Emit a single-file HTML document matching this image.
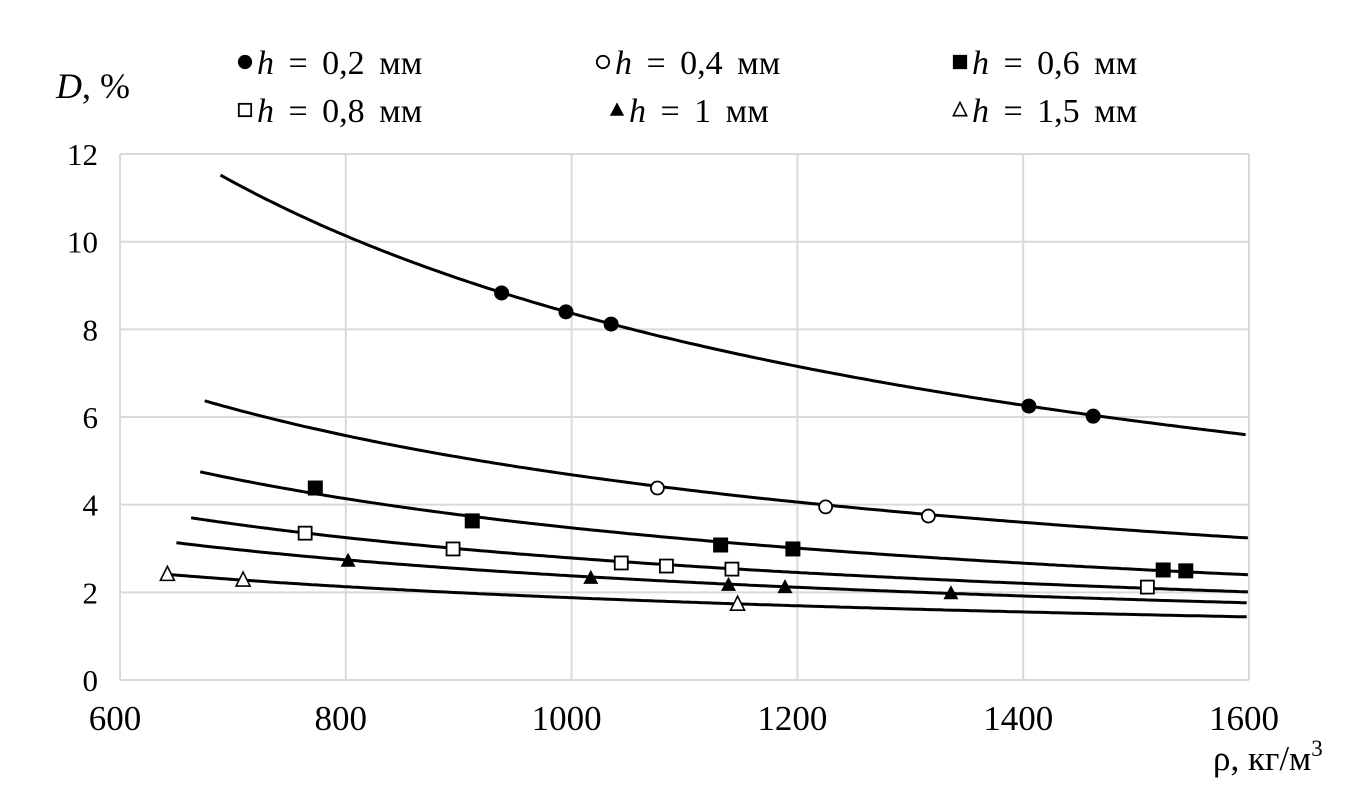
<!DOCTYPE html>
<html><head><meta charset="utf-8"><style>
html,body{margin:0;padding:0;background:#fff}
svg{display:block}
text{font-family:"Liberation Serif","Noto Serif CJK SC",serif;fill:#000}
</style></head><body>
<svg id="chart" width="1370" height="807">
<g id="grid"></g>
<g id="ticks"></g>
<g id="series"></g>
<text x="56" y="98" font-size="36"><tspan font-style="italic">D</tspan>, %</text>
<text x="1213" y="770" font-size="35">ρ, кг/м<tspan font-size="23" dy="-14">3</tspan></text>
<g id="legend"></g>
</svg>
<script>
const xTicks=[600,800,1000,1200,1400,1600];
const yTicks=[0,2,4,6,8,10,12];
const seriesNames=["h = 0,2 мм","h = 0,4 мм","h = 0,6 мм","h = 0,8 мм","h = 1 мм","h = 1,5 мм"];
const seriesMarkers=["fcircle","ocircle","fsquare","osquare","ftri","otri"];
const rho02=[938,995,1035,1405,1462];
const d02=[8.83,8.40,8.12,6.25,6.02];
const rho04=[1076,1225,1316];
const d04=[4.38,3.95,3.74];
const rho06=[773,912,1132,1196,1524,1544];
const d06=[4.38,3.63,3.08,2.99,2.51,2.49];
const rho08=[764,895,1044,1084,1142,1510];
const d08=[3.35,2.99,2.67,2.60,2.53,2.12];
const rho10=[802,1017,1139,1189,1336];
const d10=[2.72,2.33,2.17,2.12,1.98];
const rho15=[642,709,1147];
const d15=[2.41,2.28,1.73];
// power-law trend lines: start density, D at start, D at 1600
const trendStart=[689,675,671,663,650,642];
const trendDStart=[11.52,6.37,4.75,3.70,3.13,2.41];
const trendDEnd=[5.59,3.24,2.40,2.01,1.76,1.44];

const NS="http://www.w3.org/2000/svg";
const X=v=>120+(v-600)*1.129;
const Y=v=>680-v*43.83;
function mk(tag,attrs,parent){const e=document.createElementNS(NS,tag);for(const k in attrs)e.setAttribute(k,attrs[k]);parent.appendChild(e);return e;}
const grid=document.getElementById('grid'),ticks=document.getElementById('ticks'),ser=document.getElementById('series'),leg=document.getElementById('legend');
xTicks.forEach(t=>{
 const l=mk('line',{x1:X(t),x2:X(t),y1:Y(12),y2:Y(0),stroke:'#d9d9d9','stroke-width':2},grid);
 
 
 const tx=mk('text',{x:X(t)-5,y:730,'font-size':35,'text-anchor':'middle'},ticks);tx.textContent=t;
 
 
});
yTicks.forEach(t=>{
 const l=mk('line',{x1:X(600),x2:X(1600),y1:Y(t),y2:Y(t),stroke:'#d9d9d9','stroke-width':2},grid);
 
 
 const tx=mk('text',{x:98,y:Y(t)+11,'font-size':31,'text-anchor':'end'},ticks);tx.textContent=t;
 
 
});
function marker(type,cx,cy,parent,s){
 s=s||1;let e;
 if(type==='fcircle')e=mk('circle',{cx,cy,r:7.5*s,fill:'#000'},parent);
 else if(type==='ocircle')e=mk('circle',{cx,cy,r:6.5*s,fill:'#fff',stroke:'#000','stroke-width':1.8},parent);
 else if(type==='fsquare')e=mk('rect',{x:cx-7.5*s,y:cy-7.5*s,width:15*s,height:15*s,fill:'#000'},parent);
 else if(type==='osquare')e=mk('rect',{x:cx-6.5*s,y:cy-6.5*s,width:13*s,height:13*s,fill:'#fff',stroke:'#000','stroke-width':1.8},parent);
 else if(type==='ftri')e=mk('polygon',{points:`${cx},${cy-8*s} ${cx-7.5*s},${cy+6*s} ${cx+7.5*s},${cy+6*s}`,fill:'#000'},parent);
 else e=mk('polygon',{points:`${cx},${cy-8*s} ${cx-7*s},${cy+6*s} ${cx+7*s},${cy+6*s}`,fill:'#fff',stroke:'#000','stroke-width':1.6},parent);
 return e;
}
const allRho=[rho02,rho04,rho06,rho08,rho10,rho15];
const allD=[d02,d04,d06,d08,d10,d15];
for(let i=0;i<6;i++){
 const r0=trendStart[i],a=trendDStart[i],b=Math.log(trendDEnd[i]/a)/Math.log(1600/r0);
 let p='';
 for(let r=r0;r<=1600;r+=4){const d=a*Math.pow(r/r0,b);p+=(p?'L':'M')+X(r).toFixed(1)+','+Y(d).toFixed(1);}
 const path=mk('path',{d:p,fill:'none',stroke:'#000','stroke-width':3},ser);
 
 
}
for(let i=0;i<6;i++){
 allRho[i].forEach((r,j)=>{
  const m=marker(seriesMarkers[i],X(r),Y(allD[i][j]),ser);
  
  
 });
}
const legPos=[[245,72],[603,72],[960,72],[245,120],[617,120],[960,120]];
for(let i=0;i<6;i++){
 const [lx,ly]=legPos[i];
 const m=marker(seriesMarkers[i],lx,ly-10,leg,0.95);
 
 
 const t=mk('text',{x:lx+12,y:ly+2,'font-size':34,'word-spacing':6},leg);
 t.innerHTML='<tspan font-style="italic">h</tspan>'+seriesNames[i].slice(1);
 
 
}
</script>
</body></html>
